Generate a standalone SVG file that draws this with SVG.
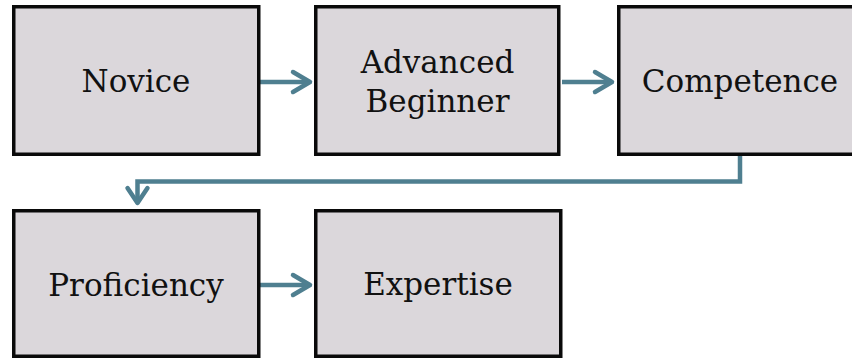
<svg xmlns="http://www.w3.org/2000/svg" width="852" height="358" viewBox="0 0 852 358">
<style>
.box{fill:#dbd7db;stroke:#0a0a0a;stroke-width:3.5}
.lbl{font-family:"DejaVu Serif","Liberation Serif",serif;font-size:31px;fill:#111;text-anchor:middle}
.con{fill:none;stroke:#4f7f90;stroke-width:4.5;stroke-linejoin:miter}
.head{fill:none;stroke:#4f7f90;stroke-width:4.5;stroke-linecap:round;stroke-linejoin:round}
</style>
<rect width="852" height="358" fill="#ffffff"/>
<g id="connectors">
  <g id="c1"><path class="con" d="M260 82H309"/><path class="head" d="M293 72L310 82L293 92"/></g>
  <g id="c2"><path class="con" d="M562 82H611"/><path class="head" d="M595 72L612 82L595 92"/></g>
  <g id="c3"><path class="con" d="M740 156V181.5H137.5V202"/><path class="head" d="M127.5 188L137.5 203L147.5 188"/></g>
  <g id="c4"><path class="con" d="M260 285H309"/><path class="head" d="M293 275L310 285L293 295"/></g>
</g>
<g id="novice"><rect class="box" x="13.75" y="6.75" width="245" height="147.5"/><text class="lbl" x="136" y="92">Novice</text></g>
<g id="advanced-beginner"><rect class="box" x="315.75" y="6.75" width="243" height="147.5"/><text class="lbl" x="437.5" y="73">Advanced</text><text class="lbl" x="437.5" y="112">Beginner</text></g>
<g id="competence"><rect class="box" x="618.75" y="6.75" width="260" height="147.5"/><text class="lbl" x="740" y="92">Competence</text></g>
<g id="proficiency"><rect class="box" x="13.75" y="210.75" width="245" height="145.5"/><text class="lbl" x="136" y="296">Proficiency</text></g>
<g id="expertise"><rect class="box" x="315.75" y="210.75" width="245" height="145.5"/><text class="lbl" x="438" y="295">Expertise</text></g>
</svg>
